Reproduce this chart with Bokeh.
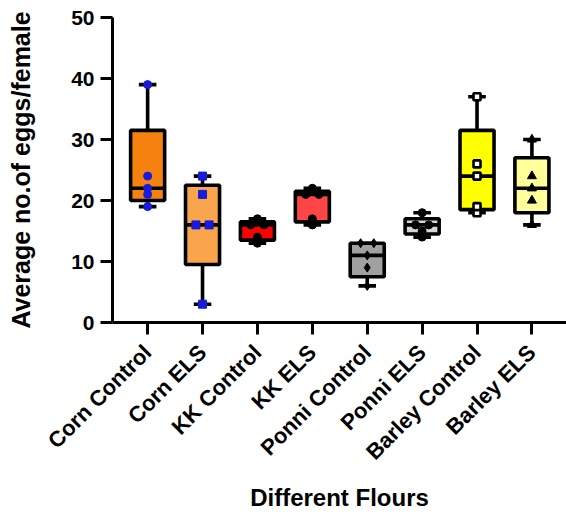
import math
import numpy as np
from bokeh.plotting import figure
from bokeh.models import Range1d, FixedTicker, ColumnDataSource
from bokeh.embed import file_html
from bokeh.resources import INLINE

# ---- data ----
groups = ["Corn Control", "Corn ELS", "KK Control", "KK ELS",
          "Ponni Control", "Ponni ELS", "Barley Control", "Barley ELS"]
corn_control = [19, 21, 22, 24, 39]
corn_els = [3, 16, 16, 21, 24]
kk_control = [13, 14, 16, 16, 17]
kk_els = [16, 17, 21, 21, 22]
ponni_control = [6, 9, 11, 13, 13]
ponni_els = [14, 15, 16, 16, 18]
barley_control = [18, 19, 24, 26, 37]
barley_els = [16, 20, 22, 24, 30]
y_ticks = [0, 10, 20, 30, 40, 50]

series = [corn_control, corn_els, kk_control, kk_els,
          ponni_control, ponni_els, barley_control, barley_els]

fills = ["#F5820F", "#F9A54B", "#FF0000", "#FF4545",
         "#A0A0A0", "#D6D6D6", "#FFFF00", "#FFFF99"]
markers = ["circle", "square", "circle", "circle",
           "diamond", "circle", "square", "triangle"]
mfill = ["#1A1ADB", "#1A1ADB", "black", "black",
         "black", "black", "white", "black"]
mline = ["#1A1ADB", "#1A1ADB", "black", "black",
         "black", "black", "black", "black"]
msize = [8, 8, 8, 8, 9, 8, 7, 9]
mlw = [1, 1, 1, 1, 1, 1, 2.6, 1]

FONT = "Liberation Sans"


def prism_quartiles(vals):
    v = sorted(vals)
    n = len(v)

    def q(pos):
        lo = int(math.floor(pos)) - 1
        hi = int(math.ceil(pos)) - 1
        return (v[lo] + v[hi]) / 2.0
    return v[0], q((n + 1) / 4.0), float(np.median(v)), q(3 * (n + 1) / 4.0), v[-1]


p = figure(width=566, height=514, output_backend="svg", toolbar_location=None,
           x_range=Range1d(-0.64, 7.63), y_range=Range1d(0, 50),
           min_border_left=112, min_border_right=0, min_border_top=17,
           min_border_bottom=192)
p.outline_line_color = None
p.xgrid.grid_line_color = None
p.ygrid.grid_line_color = None
p.background_fill_color = "white"
p.border_fill_color = "white"

xs = list(range(len(groups)))
stats = [prism_quartiles(s) for s in series]
mins = [s[0] for s in stats]
q1s = [s[1] for s in stats]
meds = [s[2] for s in stats]
q3s = [s[3] for s in stats]
maxs = [s[4] for s in stats]

BW = 0.62
CW = 0.32
LW = 3.6

src = ColumnDataSource(dict(x=xs, q1=q1s, q3=q3s, med=meds, lo=mins, hi=maxs,
                            fill=fills,
                            xl=[x - BW / 2 for x in xs], xr=[x + BW / 2 for x in xs],
                            cl=[x - CW / 2 for x in xs], cr=[x + CW / 2 for x in xs]))

# whiskers
p.segment(x0="x", y0="q3", x1="x", y1="hi", source=src, line_color="black", line_width=LW)
p.segment(x0="x", y0="q1", x1="x", y1="lo", source=src, line_color="black", line_width=LW)
p.segment(x0="cl", y0="hi", x1="cr", y1="hi", source=src, line_color="black", line_width=LW)
p.segment(x0="cl", y0="lo", x1="cr", y1="lo", source=src, line_color="black", line_width=LW)
# boxes
p.vbar(x="x", width=BW, top="q3", bottom="q1", source=src, fill_color="fill",
       line_color="black", line_width=LW)
# medians
p.segment(x0="xl", y0="med", x1="xr", y1="med", source=src, line_color="black", line_width=LW)

# points (duplicates spread horizontally)
for i, vals in enumerate(series):
    px, py = [], []
    counts = {}
    for v in vals:
        counts[v] = counts.get(v, 0) + 1
    seen = {}
    for v in vals:
        c = counts[v]
        k = seen.get(v, 0)
        seen[v] = k + 1
        off = 0.0 if c == 1 else (k - (c - 1) / 2.0) * 0.24
        px.append(i + off)
        py.append(v)
    p.scatter(px, py, marker=markers[i], size=msize[i], fill_color=mfill[i],
              line_color=mline[i], line_width=mlw[i])

# axes styling
p.xaxis.ticker = FixedTicker(ticks=xs)
p.xaxis.major_label_overrides = {i: g for i, g in enumerate(groups)}
p.xaxis.major_label_orientation = math.pi / 4
p.yaxis.ticker = FixedTicker(ticks=y_ticks)

for ax in (p.xaxis[0], p.yaxis[0]):
    ax.axis_line_width = 3
    ax.axis_line_color = "black"
    ax.major_tick_line_width = 3
    ax.major_tick_line_color = "black"
    ax.major_tick_in = 0
    ax.major_tick_out = 12
    ax.minor_tick_line_color = None
    ax.major_label_text_font = FONT
    ax.major_label_text_font_style = "bold"
    ax.major_label_text_color = "black"
    ax.axis_label_text_font = FONT
    ax.axis_label_text_font_style = "bold"
    ax.axis_label_text_color = "black"

p.xaxis.major_label_text_font_size = "22px"
p.yaxis.major_label_text_font_size = "21px"
p.xaxis.major_label_standoff = 14
p.yaxis.major_label_standoff = 6
p.xaxis.axis_label = "Different Flours"
p.yaxis.axis_label = "Average no.of eggs/female"
p.xaxis.axis_label_text_font_size = "24px"
p.yaxis.axis_label_text_font_size = "25px"
p.xaxis.axis_label_standoff = 8
p.yaxis.axis_label_standoff = 33

open("out.html", "w").write(file_html(p, INLINE))
